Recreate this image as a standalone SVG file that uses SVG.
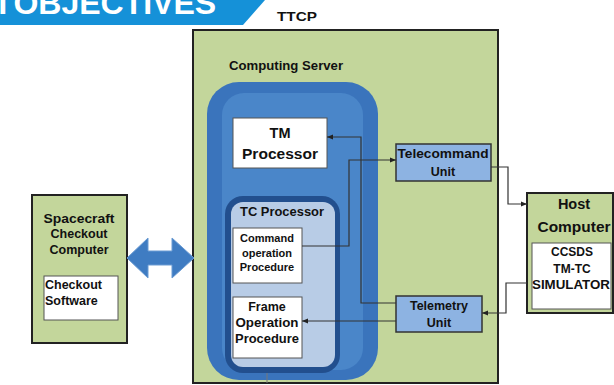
<svg xmlns="http://www.w3.org/2000/svg" width="614" height="385" viewBox="0 0 614 385">
<defs>
<style>
text{font-family:"Liberation Sans",Arial,sans-serif;font-weight:bold;fill:#111;text-anchor:middle}
.green{fill:#c3d69b;stroke:#222;stroke-width:2}
.white{fill:#fff;stroke:#555;stroke-width:1}
.unit{fill:#8db3e2;stroke:#333;stroke-width:1.5}
.conn{fill:none;stroke:#333;stroke-width:1.2}
</style>
<marker id="ah" viewBox="0 0 10 10" refX="10" refY="5" markerWidth="6" markerHeight="6" orient="auto" markerUnits="userSpaceOnUse">
<path d="M0,1 L10,5 L0,9 Z" fill="#222"/>
</marker>
</defs>
<rect width="614" height="385" fill="#fff"/>
<g id="banner">
<polygon points="0,0 265,0 243,25 0,25" fill="#1591d8"/>
<text x="-7" y="14" style="font-size:32px;fill:#fff;text-anchor:start;word-spacing:-8px">T OBJECTIVES</text>
</g>
<g id="ttcp">
<text x="297" y="21" style="font-size:13px" textLength="40" lengthAdjust="spacingAndGlyphs">TTCP</text>
<rect class="green" x="193" y="30" width="305" height="353"/>
</g>
<g id="computing-server">
<text x="286" y="70" style="font-size:13px" textLength="114" lengthAdjust="spacingAndGlyphs">Computing Server</text>
<rect x="207" y="82" width="171" height="298" rx="32" fill="#3a74bc"/>
<rect x="222" y="93" width="141" height="277" rx="22" fill="#4a86c9"/>
</g>
<g id="tm-processor">
<rect class="white" x="233" y="118" width="94" height="50"/>
<text x="280" y="138" style="font-size:14.5px">TM</text>
<text x="280" y="159" style="font-size:14.5px" textLength="76" lengthAdjust="spacingAndGlyphs">Processor</text>
</g>
<g id="tc-processor">
<rect x="225" y="196" width="115" height="177" rx="18" fill="#224f8e"/>
<rect x="231" y="202" width="104" height="165" rx="12" fill="#b8cce6"/>
<text x="282" y="216" style="font-size:12.5px" textLength="84" lengthAdjust="spacingAndGlyphs">TC Processor</text>
</g>
<g id="command-operation-procedure">
<rect class="white" x="233" y="228" width="69" height="55"/>
<text x="267" y="242" style="font-size:11px">Command</text>
<text x="267" y="257" style="font-size:11px">operation</text>
<text x="267" y="271" style="font-size:11px">Procedure</text>
</g>
<g id="frame-operation-procedure">
<rect class="white" x="233" y="297" width="69" height="61"/>
<text x="267" y="311" style="font-size:12.5px">Frame</text>
<text x="267" y="327" style="font-size:12.5px" textLength="63" lengthAdjust="spacingAndGlyphs">Operation</text>
<text x="267" y="343" style="font-size:12.5px" textLength="64" lengthAdjust="spacingAndGlyphs">Procedure</text>
</g>
<g id="telecommand-unit">
<rect class="unit" x="396" y="144" width="95" height="37"/>
<text x="443" y="158" style="font-size:12.5px" textLength="91" lengthAdjust="spacingAndGlyphs">Telecommand</text>
<text x="443" y="176" style="font-size:12.5px">Unit</text>
</g>
<g id="telemetry-unit">
<rect class="unit" x="396" y="296" width="86" height="36"/>
<text x="439" y="310" style="font-size:12.5px">Telemetry</text>
<text x="439" y="327" style="font-size:12.5px">Unit</text>
</g>
<g id="host-computer">
<rect class="green" x="527" y="193" width="86" height="120"/>
<text x="574" y="209" style="font-size:14.5px">Host</text>
<text x="574" y="232" style="font-size:14.5px" textLength="73" lengthAdjust="spacingAndGlyphs">Computer</text>
<rect class="white" x="532" y="243" width="79" height="66"/>
<text x="572" y="256" style="font-size:12px">CCSDS</text>
<text x="572" y="273" style="font-size:12px">TM-TC</text>
<text x="571" y="289" style="font-size:12px" textLength="78" lengthAdjust="spacingAndGlyphs">SIMULATOR</text>
</g>
<g id="spacecraft-checkout-computer">
<rect class="green" x="32" y="195" width="95" height="148"/>
<text x="79" y="223" style="font-size:12.5px" textLength="71" lengthAdjust="spacingAndGlyphs">Spacecraft</text>
<text x="79" y="238" style="font-size:12.5px">Checkout</text>
<text x="79" y="254" style="font-size:12.5px">Computer</text>
<rect class="white" x="44" y="276" width="74" height="44"/>
<text x="45" y="289" style="font-size:12.5px;text-anchor:start">Checkout</text>
<text x="45" y="305" style="font-size:12.5px;text-anchor:start">Software</text>
</g>
<g id="connectors">
<polygon points="127,258 148,238 148,251 172,251 172,238 194,258 172,278 172,265 148,265 148,278" fill="#3f7cc2" stroke="#6a9bd3" stroke-width="1"/>
<polyline class="conn" points="302,246 349,246 349,160 396,160" marker-end="url(#ah)"/>
<polyline class="conn" points="396,303 361,303 361,137 327,137" marker-end="url(#ah)"/>
<polyline class="conn" points="396,321 302,321" marker-end="url(#ah)"/>
<polyline class="conn" points="491,167 508,167 508,204 527,204" marker-end="url(#ah)"/>
<polyline class="conn" points="527,283 506,283 506,313 482,313" marker-end="url(#ah)"/>
<line x1="267" y1="373" x2="267" y2="383" stroke="#777" stroke-width="1"/>
</g>
</svg>
